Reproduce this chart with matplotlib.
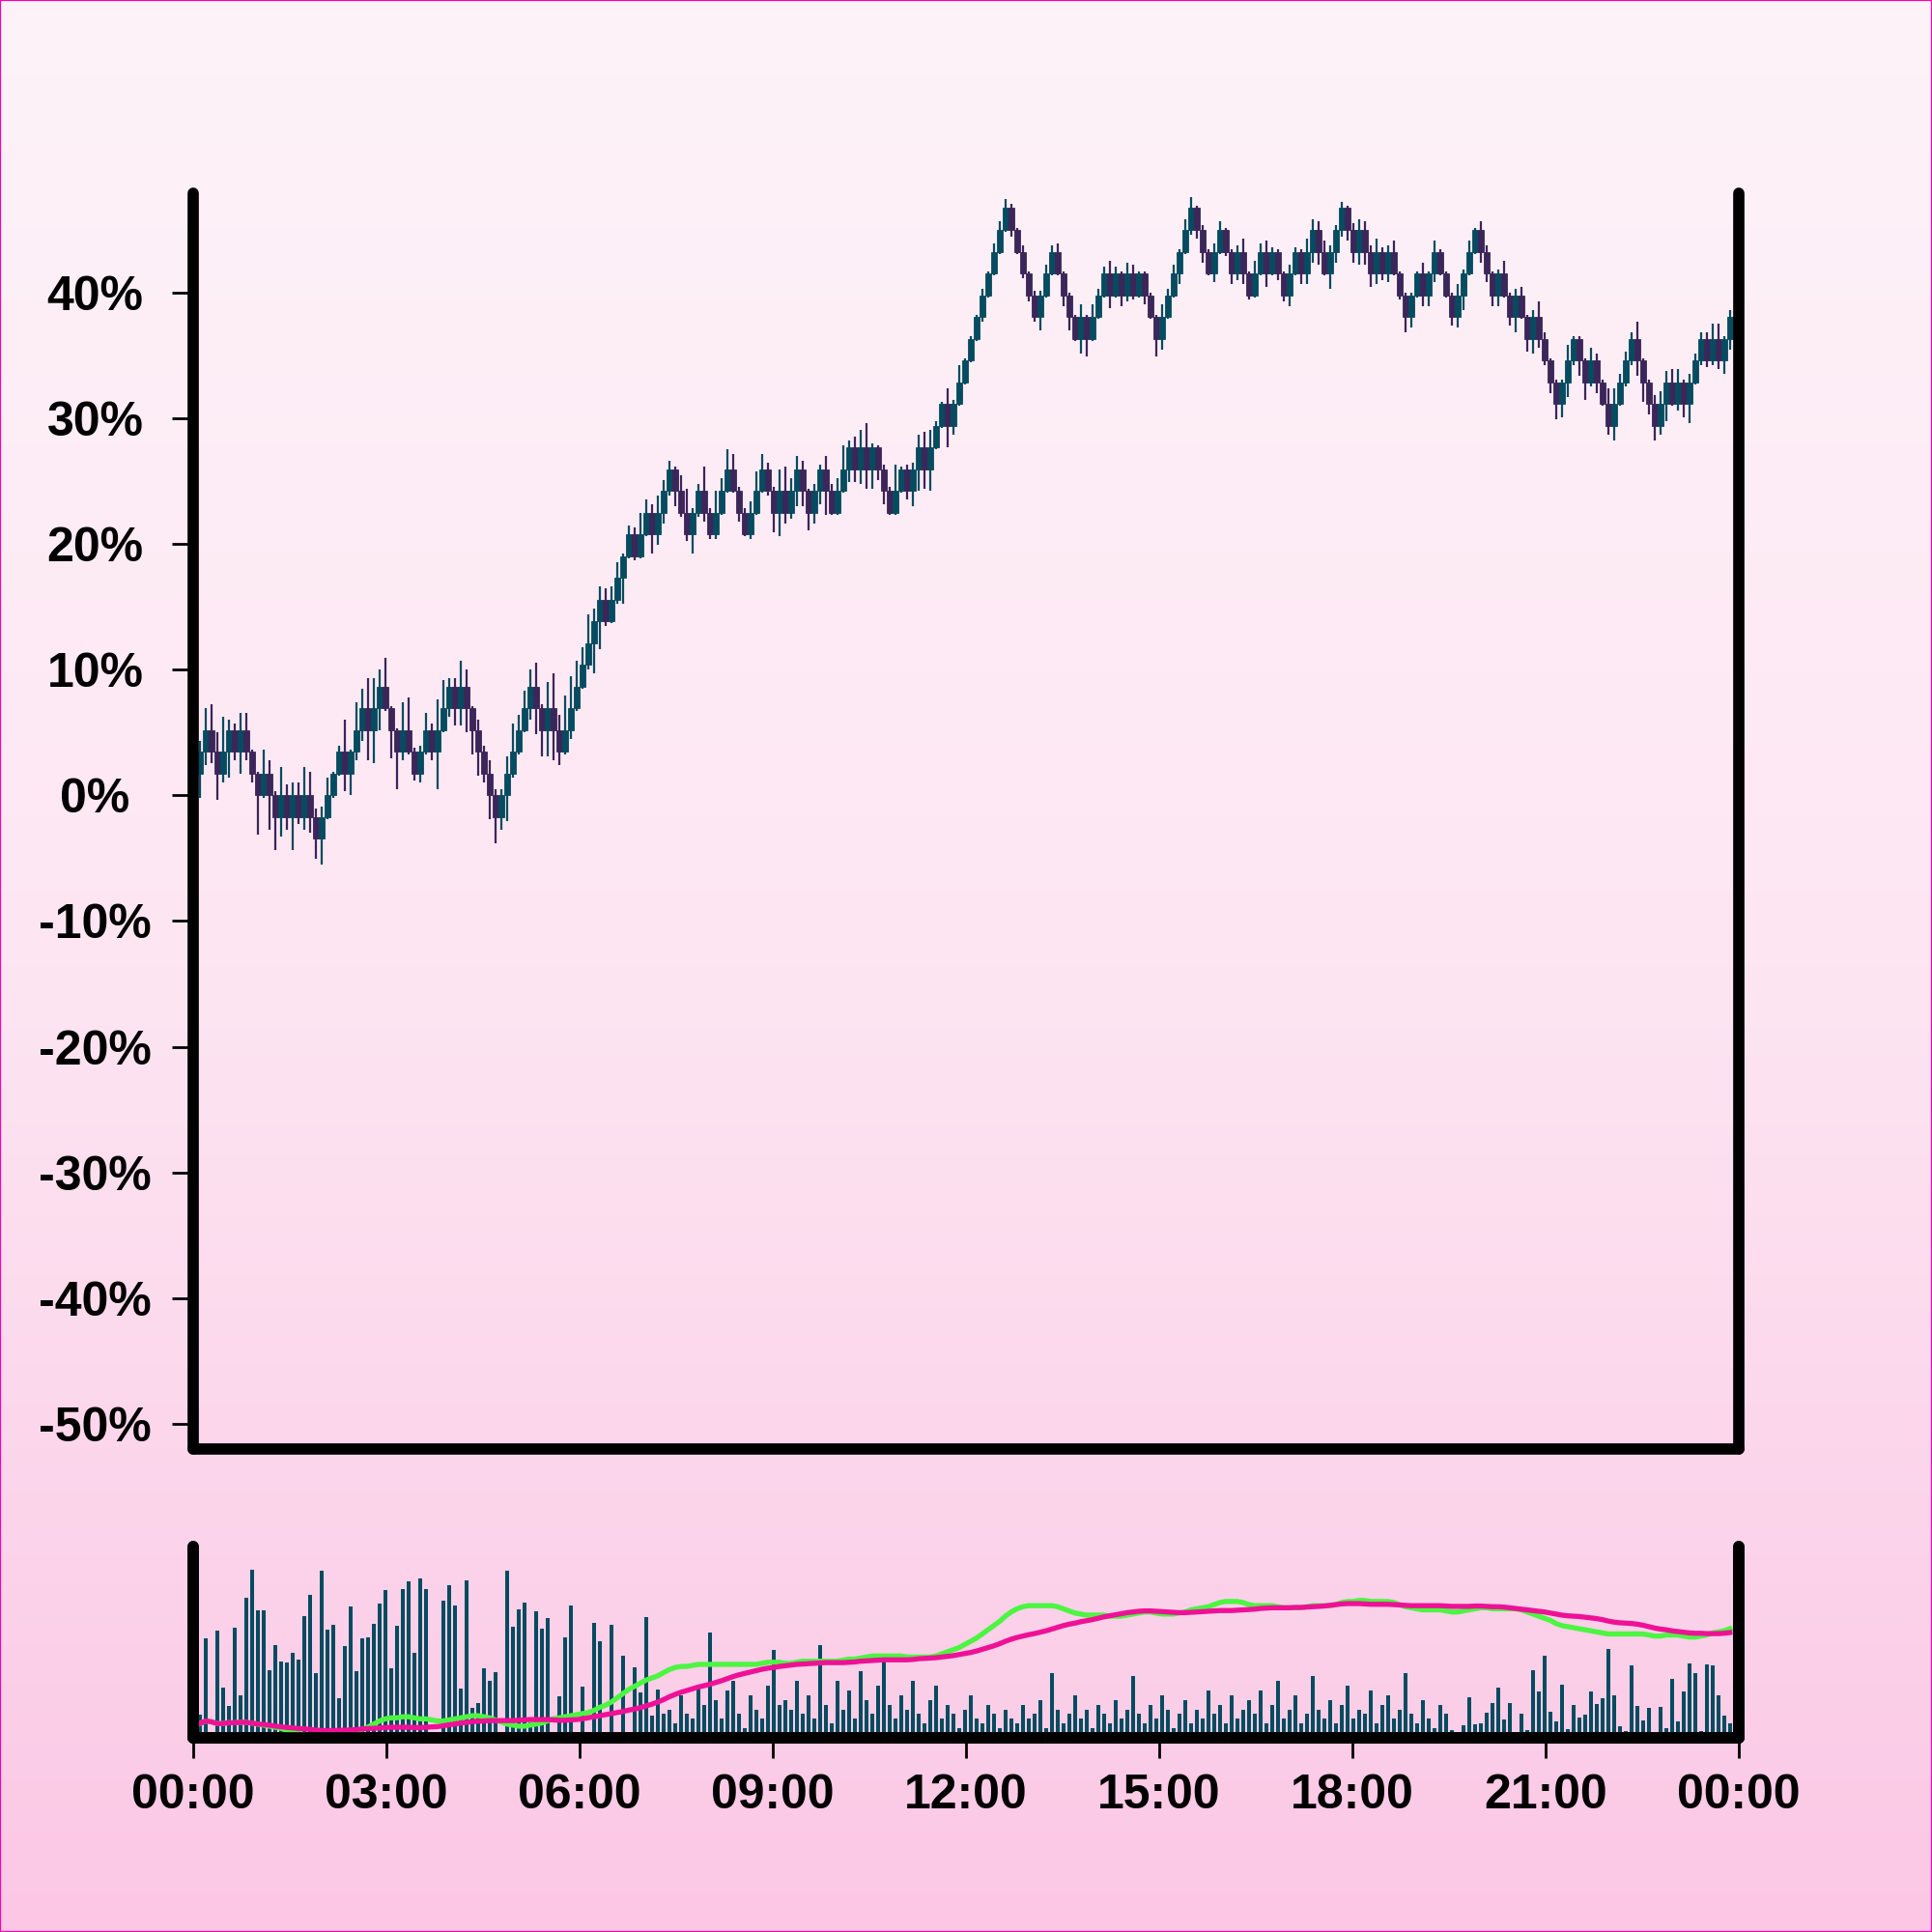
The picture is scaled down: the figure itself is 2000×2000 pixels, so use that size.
import matplotlib.pyplot as plt
import numpy as np
import pandas as pd
from matplotlib.colors import LinearSegmentedColormap
from matplotlib.patches import Rectangle

plt.rcParams['font.family'] = ['Liberation Sans', 'DejaVu Sans']
plt.rcParams['font.weight'] = 'bold'

# price moves in fixed steps; levels below are in steps, step size in %
step_pct = 1.73
open_first = 1

close_lvl = [2, 3, 2, 1, 2, 3, 2, 3, 2, 1,
             0, 1, 0, -1, 0, -1, 0, -1, 0, -1,
             -2, -1, 0, 1, 2, 1, 2, 3, 4, 3,
             4, 5, 4, 3, 2, 3, 2, 1, 2, 3,
             2, 3, 4, 5, 4, 5, 4, 3, 2, 1,
             0, -1, 0, 1, 2, 3, 4, 5, 4, 3,
             4, 3, 2, 3, 4, 5, 6, 7, 8, 9,
             8, 9, 10, 11, 12, 11, 12, 13, 12, 13,
             14, 15, 14, 13, 12, 13, 14, 13, 12, 13,
             14, 15, 14, 13, 12, 13, 14, 15, 14, 13,
             14, 13, 14, 15, 14, 13, 14, 15, 14, 13,
             14, 15, 16, 15, 16, 15, 16, 15, 14, 13,
             14, 15, 14, 15, 16, 15, 16, 17, 18, 17,
             18, 19, 20, 21, 22, 23, 24, 25, 26, 27,
             26, 25, 24, 23, 22, 23, 24, 25, 24, 23,
             22, 21, 22, 21, 22, 23, 24, 23, 24, 23,
             24, 23, 24, 23, 22, 21, 22, 23, 24, 25,
             26, 27, 26, 25, 24, 25, 26, 25, 24, 25,
             24, 23, 24, 25, 24, 25, 24, 23, 24, 25,
             24, 25, 26, 25, 24, 25, 26, 27, 26, 25,
             26, 25, 24, 25, 24, 25, 24, 23, 22, 23,
             24, 23, 24, 25, 24, 23, 22, 23, 24, 25,
             26, 25, 24, 23, 24, 23, 22, 23, 22, 21,
             22, 21, 20, 19, 18, 19, 20, 21, 20, 19,
             20, 19, 18, 17, 18, 19, 20, 21, 20, 19,
             18, 17, 18, 19, 18, 19, 18, 19, 20, 21,
             20, 21, 20, 21, 22]

high_lvl = [2.5, 4.0, 4.2, 2.9, 3.6, 3.5, 3.3, 3.8, 3.8, 2.1,
            1.1, 2.1, 1.6, 0.2, 1.3, 0.5, 0.6, 0.6, 1.3, 1.1,
            -0.6, -0.5, 0.8, 1.1, 2.3, 3.5, 2.1, 4.3, 4.9, 5.4,
            5.4, 5.8, 6.3, 4.1, 3.1, 4.3, 4.5, 2.2, 2.3, 3.8,
            3.3, 4.4, 5.3, 5.4, 5.4, 6.2, 5.8, 4.1, 3.5, 2.3,
            1.6, 0.3, 0.3, 1.8, 3.3, 3.7, 4.8, 5.8, 6.1, 4.2,
            5.2, 5.6, 3.7, 4.6, 5.5, 6.2, 6.8, 8.3, 8.6, 9.6,
            9.5, 9.6, 10.7, 11.1, 12.4, 12.3, 13.0, 13.6, 13.4, 13.8,
            14.5, 15.4, 15.1, 14.7, 14.1, 13.2, 14.3, 15.1, 13.2, 14.0,
            14.6, 15.9, 15.7, 14.2, 13.2, 13.5, 14.9, 15.7, 15.3, 14.2,
            15.0, 15.1, 14.6, 15.6, 15.4, 14.1, 14.3, 15.2, 15.6, 14.3,
            14.6, 16.1, 16.3, 16.5, 16.8, 17.1, 16.2, 16.1, 15.2, 14.2,
            15.2, 15.1, 15.2, 15.3, 16.6, 16.7, 16.8, 17.2, 18.1, 18.7,
            18.2, 19.8, 20.1, 21.1, 22.1, 23.3, 24.1, 25.4, 26.4, 27.4,
            27.2, 26.1, 25.3, 24.1, 23.2, 23.2, 24.4, 25.3, 25.4, 24.1,
            23.1, 22.1, 22.6, 22.1, 22.6, 23.3, 24.3, 24.6, 24.3, 24.1,
            24.5, 24.4, 24.1, 24.1, 23.1, 22.1, 22.6, 23.3, 24.4, 25.1,
            26.5, 27.5, 27.1, 26.2, 25.1, 25.4, 26.4, 26.1, 25.1, 25.3,
            25.6, 24.1, 24.6, 25.4, 25.5, 25.2, 25.1, 24.1, 24.4, 25.2,
            25.1, 25.6, 26.5, 26.4, 25.5, 25.3, 26.2, 27.3, 27.1, 26.3,
            26.5, 26.4, 25.3, 25.6, 25.2, 25.3, 25.5, 24.1, 23.1, 23.1,
            24.1, 24.5, 24.1, 25.5, 25.1, 24.1, 23.1, 23.5, 24.2, 25.5,
            26.1, 26.4, 25.3, 24.1, 24.2, 24.6, 23.1, 23.3, 23.4, 22.1,
            22.3, 22.7, 21.3, 20.1, 19.1, 19.1, 20.7, 21.1, 21.1, 20.1,
            20.6, 20.3, 19.1, 18.7, 18.7, 19.4, 20.4, 21.3, 21.8, 20.1,
            19.1, 18.4, 18.6, 19.5, 19.6, 19.6, 19.1, 19.4, 20.3, 21.3,
            21.3, 21.7, 21.7, 21.1, 22.3]

low_lvl = [-0.1, 1.4, 1.5, -0.2, 0.6, 0.8, 1.6, 1.0, 1.6, 0.6,
           -1.8, -0.1, -1.6, -2.5, -1.9, -1.6, -2.5, -1.3, -1.6, -1.7,
           -2.9, -3.2, -1.1, -0.1, 0.9, 0.2, 0.0, 1.6, 2.5, 1.6,
           1.5, 3.0, 3.9, 1.7, 0.3, 1.6, 1.9, 0.7, 0.6, 1.9,
           1.6, 0.3, 2.9, 3.6, 3.2, 3.2, 2.9, 1.9, 0.9, 0.6,
           -1.1, -2.2, -1.6, -1.2, 0.8, 1.9, 2.9, 3.5, 2.8, 1.8,
           1.8, 1.6, 1.4, 1.9, 2.6, 3.9, 4.9, 5.8, 5.6, 6.7,
           7.8, 7.9, 8.8, 8.8, 10.9, 10.8, 10.9, 11.9, 11.1, 11.5,
           12.5, 13.8, 13.3, 12.8, 11.7, 11.1, 12.8, 12.6, 11.8, 11.8,
           12.9, 13.9, 13.9, 12.6, 11.9, 11.8, 12.9, 13.9, 13.8, 12.1,
           11.9, 12.5, 12.7, 13.3, 13.3, 12.2, 12.5, 13.4, 12.9, 12.9,
           12.9, 13.9, 14.4, 14.4, 14.3, 14.1, 14.1, 14.5, 13.4, 12.9,
           12.9, 13.9, 13.6, 13.3, 14.0, 14.1, 14.0, 15.9, 16.9, 16.0,
           16.6, 17.9, 18.9, 19.9, 20.9, 21.8, 22.9, 23.9, 24.9, 25.9,
           25.7, 24.9, 23.8, 22.7, 21.8, 21.4, 22.9, 23.9, 23.9, 22.5,
           21.4, 20.9, 20.3, 20.2, 20.9, 21.9, 22.9, 22.4, 22.9, 22.5,
           22.7, 22.8, 22.9, 22.6, 21.9, 20.2, 20.5, 21.9, 22.9, 23.5,
           24.9, 25.8, 25.6, 24.5, 23.9, 23.6, 24.9, 24.8, 23.5, 23.7,
           23.5, 22.8, 22.9, 23.9, 23.4, 23.9, 23.7, 22.7, 22.5, 23.9,
           23.5, 23.5, 24.5, 24.4, 23.9, 23.3, 24.5, 25.7, 25.5, 24.5,
           24.4, 24.4, 23.4, 23.5, 23.7, 23.6, 23.9, 22.8, 21.3, 21.5,
           22.9, 22.5, 22.5, 23.6, 23.9, 22.9, 21.6, 21.5, 22.3, 23.9,
           24.9, 24.5, 23.6, 22.5, 22.5, 22.9, 21.6, 21.3, 21.9, 20.4,
           20.3, 20.6, 19.8, 18.5, 17.3, 17.4, 18.3, 19.8, 19.3, 18.2,
           18.8, 18.5, 17.9, 16.6, 16.3, 17.9, 18.8, 19.8, 19.3, 18.1,
           17.5, 16.3, 16.6, 17.2, 17.9, 17.7, 17.4, 17.1, 18.9, 19.8,
           19.7, 19.8, 19.6, 19.4, 20.5]

volume = [24, 105, 0, 113, 53, 34, 116, 45, 148, 178,
          135, 135, 71, 98, 81, 80, 90, 83, 129, 151,
          68, 176, 114, 119, 42, 97, 139, 70, 105, 106,
          120, 142, 156, 73, 118, 157, 165, 90, 168, 157,
          0, 0, 145, 161, 140, 52, 166, 32, 37, 73,
          60, 69, 0, 176, 117, 136, 143, 16, 134, 115,
          127, 0, 44, 106, 140, 0, 54, 0, 121, 102,
          3, 119, 0, 87, 0, 74, 48, 128, 23, 51,
          25, 30, 15, 45, 25, 20, 55, 35, 111, 40,
          20, 50, 60, 25, 10, 45, 30, 20, 55, 93,
          35, 40, 30, 60, 25, 45, 20, 98, 35, 15,
          60, 30, 50, 20, 70, 40, 25, 55, 88, 35,
          20, 45, 30, 60, 25, 15, 40, 55, 20, 35,
          25, 10, 30, 45, 20, 15, 35, 25, 10, 30,
          20, 15, 35, 20, 25, 40, 10, 68, 30, 15,
          25, 45, 20, 30, 10, 35, 25, 15, 40, 20,
          30, 65, 25, 15, 35, 20, 45, 30, 10, 25,
          40, 15, 30, 20, 50, 25, 35, 15, 45, 20,
          30, 40, 25, 50, 15, 35, 60, 20, 30, 45,
          15, 25, 65, 30, 20, 40, 15, 35, 55, 20,
          30, 25, 50, 15, 35, 45, 20, 30, 68, 25,
          15, 40, 20, 10, 35, 25, 8, 0, 13, 43,
          14, 15, 27, 37, 53, 19, 37, 0, 26, 8,
          71, 49, 87, 28, 17, 56, 9, 35, 21, 24,
          49, 36, 42, 94, 45, 12, 7, 77, 34, 18,
          32, 0, 33, 10, 62, 17, 49, 79, 68, 7,
          78, 77, 45, 23, 15]

hour_ticks = [0, 3, 6, 9, 12, 15, 18, 21, 24]
hour_labels = ["00:00", "03:00", "06:00", "09:00", "12:00",
               "15:00", "18:00", "21:00", "00:00"]

TEAL = '#064b5f'
PURPLE = '#3b2559'
GREEN = '#4cf542'
PINK = '#ee1196'

times = pd.date_range("2024-01-01 00:06:07", periods=len(close_lvl), freq="324s")
hours = np.asarray((times - times[0].normalize()) / pd.Timedelta(hours=1))

close = np.array(close_lvl) * step_pct
opn = np.array([open_first] + close_lvl[:-1]) * step_pct
high = np.array(high_lvl) * step_pct
low = np.array(low_lvl) * step_pct
colors = np.where(close >= opn, TEAL, PURPLE)

ma_fast = pd.Series(close).rolling(10, min_periods=1).mean()
ma_slow = pd.Series(close).rolling(30, min_periods=1).mean()

fig = plt.figure(figsize=(10, 10), dpi=200)

# background gradient + thin border
bg = fig.add_axes([0, 0, 1, 1], zorder=-10)
cmap = LinearSegmentedColormap.from_list('bg', ['#fdf3f9', '#fde6f2', '#fbc7e5'])
bg.imshow(np.linspace(0, 1, 256).reshape(-1, 1), aspect='auto', cmap=cmap,
          extent=[0, 1, 0, 1])
bg.axis('off')
fig.patches.append(Rectangle((0, 0), 1, 1, transform=fig.transFigure, fill=False,
                             edgecolor='#ff00aa', lw=0.8))


def style_spines(a):
    for name, sp in a.spines.items():
        if name == 'top':
            sp.set_visible(False)
            continue
        sp.set_linewidth(4.2)
        sp.set_color('black')
        sp.set_capstyle('round')


# candles
ax = fig.add_axes([0.1, 0.25, 0.8, 0.65])
ax.patch.set_alpha(0)
ax.vlines(hours, low, high, colors=colors, lw=0.8)
ax.bar(hours, close - opn, bottom=opn, width=0.09, color=colors,
       edgecolor=colors, lw=0.3)
ax.set_xlim(0, 24)
ax.set_ylim(-52.0, 47.9)
ax.set_xticks([])
yt = list(range(-50, 41, 10))
ax.set_yticks(yt)
ax.set_yticklabels([f"{v}%" for v in yt])
ax.tick_params(axis='y', length=8, width=1, pad=28.5, labelsize=18)
for lbl in ax.get_yticklabels():
    lbl.set_horizontalalignment('center')
style_spines(ax)

# volume + moving averages
vax = fig.add_axes([0.1, 0.1005, 0.8, 0.099])
vax.patch.set_alpha(0)
vax.bar(hours, volume, width=0.06, color=TEAL, lw=0)
vax.set_xlim(0, 24)
vax.set_ylim(0, 202)
vax.set_yticks([])
vax.set_xticks(hour_ticks)
vax.set_xticklabels(hour_labels)
vax.tick_params(axis='x', length=7.5, width=1, pad=6, labelsize=18)
style_spines(vax)

tax = vax.twinx()
tax.plot(hours, ma_fast, color=GREEN, lw=1.9)
tax.plot(hours, ma_slow, color=PINK, lw=1.9)
tax.set_ylim(-1.25, 61.9)
tax.set_yticks([])
style_spines(tax)

fig.savefig('out.png', dpi=200)
